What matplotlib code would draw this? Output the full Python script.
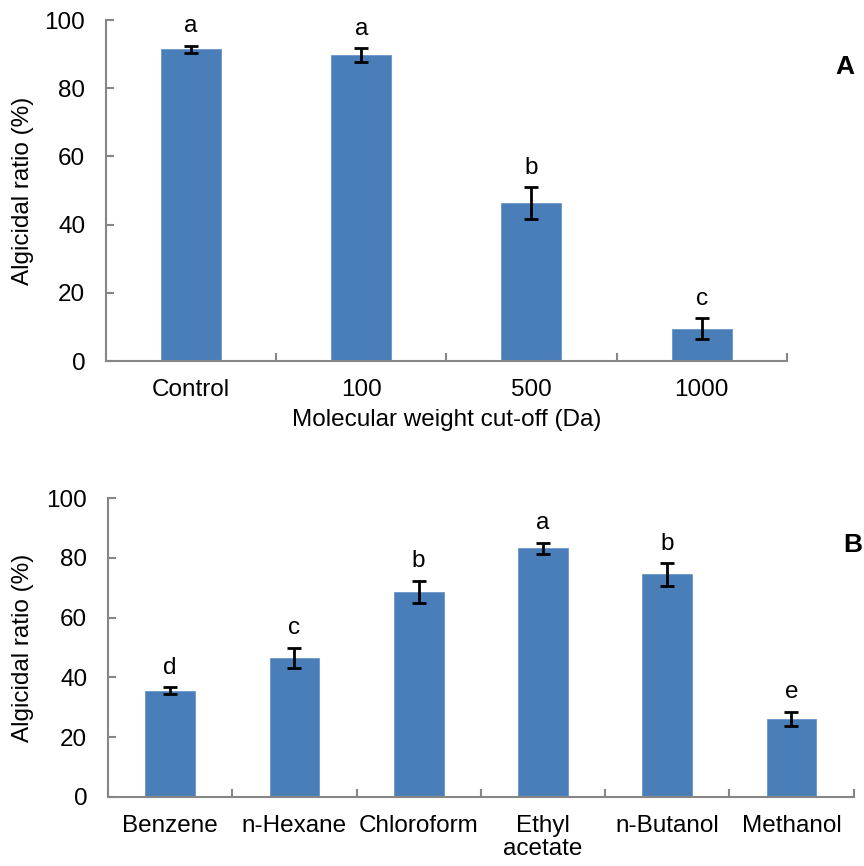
import numpy as np
import matplotlib.pyplot as plt

## data ################################

cutoff_labels = ['Control', '100', '500', '1000']
cutoff_ratio = [91.4, 89.7, 46.3, 9.5]
cutoff_err = [1.1, 2.0, 4.7, 3.1]
cutoff_letters = ['a', 'a', 'b', 'c']

solvent_labels = ['Benzene', 'n-Hexane', 'Chloroform', 'Ethyl\nacetate', 'n-Butanol', 'Methanol']
solvent_ratio = [35.5, 46.6, 68.7, 83.3, 74.5, 26.1]
solvent_err = [1.2, 3.4, 3.7, 1.8, 3.8, 2.4]
solvent_letters = ['d', 'c', 'b', 'a', 'b', 'e']

## style ################################

plt.rcParams['font.family'] = ['Liberation Sans', 'DejaVu Sans']
bar_color = '#4a7eb8'
axis_color = '#868686'
fs = 17.5


def panel(ax, labels, values, errs, letters, width):
    n = len(labels)
    x = np.arange(n)
    ax.bar(x, values, width=width, color=bar_color, edgecolor='#6b96c8', linewidth=0.6, zorder=2)
    ax.errorbar(x, values, yerr=errs, fmt='none', ecolor='black', elinewidth=2.0,
                capsize=5, capthick=2.0, zorder=3)
    for xi, v, e, l in zip(x, values, errs, letters):
        ax.annotate(l, (xi, v + e), xytext=(0, 6), textcoords='offset points',
                    ha='center', va='bottom', fontsize=fs)

    ax.set_xlim(-0.5, n - 0.5)
    ax.set_ylim(0, 100)
    ax.set_yticks(np.arange(0, 101, 20))
    ax.set_xticks(np.arange(n + 1) - 0.5)
    ax.set_xticklabels([])
    ax.set_xticks(x, minor=True)
    ax.set_xticklabels(labels, minor=True, fontsize=fs, linespacing=1.1, va='top')
    ax.tick_params(axis='x', which='minor', length=0, pad=13)
    ax.tick_params(axis='x', which='major', direction='in', length=6, width=1.5, color=axis_color)
    ax.tick_params(axis='y', direction='in', length=6, width=1.5, color=axis_color,
                   labelsize=fs, pad=15)
    for s in ['top', 'right']:
        ax.spines[s].set_visible(False)
    for s in ['left', 'bottom']:
        ax.spines[s].set_color(axis_color)
        ax.spines[s].set_linewidth(1.5)


fig = plt.figure(figsize=(8.64, 8.66), dpi=100)

ax1 = fig.add_axes([0.1227, 0.5831, 0.7878, 0.3938])
panel(ax1, cutoff_labels, cutoff_ratio, cutoff_err, cutoff_letters, 0.353)
ax1.set_xlabel('Molecular weight cut-off (Da)', fontsize=fs, labelpad=6)
ax1.set_ylabel('Algicidal ratio (%)', fontsize=fs)
ax1.yaxis.set_label_coords(-0.106, 0.5)

ax2 = fig.add_axes([0.125, 0.0800, 0.863, 0.3446])
panel(ax2, solvent_labels, solvent_ratio, solvent_err, solvent_letters, 0.40)
ax2.set_ylabel('Algicidal ratio (%)', fontsize=fs)
ax2.yaxis.set_label_coords(-0.099, 0.5)

fig.text(845 / 864, 1 - 67 / 866, 'A', fontsize=19, fontweight='bold', ha='center', va='center')
fig.text(843 / 864, 1 - 545 / 866, 'B', fontsize=19, fontweight='bold', ha='left', va='center')

fig.savefig('out.png', dpi=100)
